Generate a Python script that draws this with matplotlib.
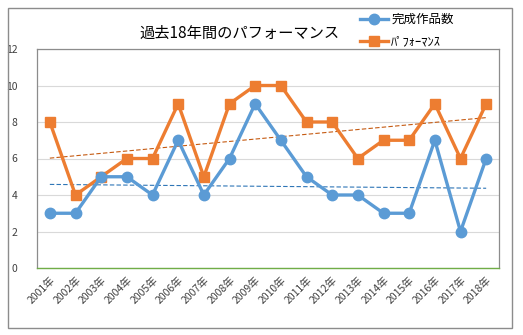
import numpy as np
import matplotlib
matplotlib.use("Agg")
import matplotlib.pyplot as plt
from matplotlib.patches import Rectangle

plt.rcParams['font.family'] = ['Noto Sans CJK JP', 'DejaVu Sans']

years = [f"{y}年" for y in range(2001, 2019)]
works = [3, 3, 5, 5, 4, 7, 4, 6, 9, 7, 5, 4, 4, 3, 3, 7, 2, 6]
perf = [8, 4, 5, 6, 6, 9, 5, 9, 10, 10, 8, 8, 6, 7, 7, 9, 6, 9]
# trend line end values
works_trend = [4.58, 4.37]
perf_trend = [6.02, 8.24]

blue = '#5B9BD5'
orange = '#ED7D31'

fig = plt.figure(figsize=(5.23, 3.35), dpi=100)
ax = fig.add_axes([37/523, 67/335, 462/523, 219/335])

x = np.arange(len(years))
ax.plot(x, works, color=blue, lw=2.4, marker='o', ms=7.5, label='完成作品数', zorder=4)
ax.plot(x, perf, color=orange, lw=2.4, marker='s', ms=7, label='ﾊﾟﾌｫｰﾏﾝｽ', zorder=3)
ax.plot([x[0], x[-1]], works_trend, color='#2E75B6', lw=0.8, ls=(0, (4, 2)), zorder=2)
ax.plot([x[0], x[-1]], perf_trend, color='#C55A11', lw=0.8, ls=(0, (4, 2)), zorder=2)

ax.set_xlim(-0.5, len(years) - 0.5)
ax.set_ylim(0, 12)
ax.set_yticks(range(0, 13, 2))
ax.set_xticks(x)
ax.set_xticklabels(years, rotation=45, ha='right', rotation_mode='anchor', fontsize=7.5, color='#404040')
ax.tick_params(axis='y', labelsize=7.5, colors='#404040', length=0, pad=14)
ax.tick_params(axis='x', length=0, pad=5)
ax.grid(axis='y', color='#D9D9D9', lw=0.8)
ax.set_axisbelow(True)
for s in ['left', 'right', 'top']:
    ax.spines[s].set_color('#8C8C8C')
    ax.spines[s].set_linewidth(0.9)
ax.spines['bottom'].set_color('#70AD47')
ax.spines['bottom'].set_linewidth(1.0)

fig.text(240/523, 1 - 33/335, '過去18年間のパフォーマンス', fontsize=11, ha='center', va='center', color='#000000')
fig.legend(loc='upper left', bbox_to_anchor=(355/523, 1 - 8/335), frameon=False,
           fontsize=9, handlelength=2.2, handletextpad=0.3, labelspacing=0.75, borderaxespad=0)

fig.patches.append(Rectangle((8/523, 7/335), 504/523, 320/335, transform=fig.transFigure,
                             fill=False, edgecolor='#8C8C8C', lw=1))

fig.savefig('out.png', dpi=100)
